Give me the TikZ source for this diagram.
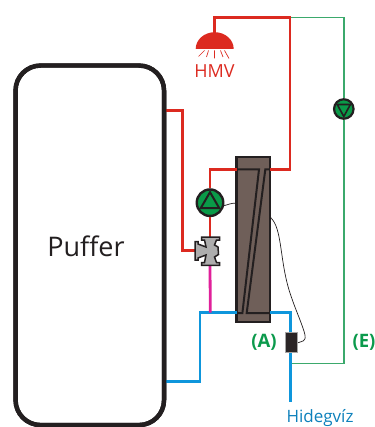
\documentclass[tikz,border=0pt]{standalone}
\usepackage{fontspec}
\setmainfont{Open Sans}
\definecolor{hot}{HTML}{DC2A20}
\definecolor{cold}{HTML}{0E96DC}
\definecolor{mag}{HTML}{E0209A}
\definecolor{grn}{HTML}{3BA96C}
\definecolor{pumpg}{HTML}{0A9A48}
\definecolor{txtg}{HTML}{0B9A4C}
\definecolor{ink}{HTML}{231F20}
\definecolor{hxf}{HTML}{6F5F59}
\tikzset{
 pipehot/.style={draw=hot,line width=2.8pt,line join=miter},
 pipecold/.style={draw=cold,line width=2.8pt},
 pipemag/.style={draw=mag,line width=2.8pt},
 pipegrn/.style={draw=grn,line width=1.4pt},
 wire/.style={draw=ink,line width=0.7pt},
 tankbox/.style={draw=ink,line width=4.4pt,outer sep=0pt,rounded corners=25pt,minimum width=148.5pt,minimum height=359.5pt,fill=white,inner sep=0pt},
 hxbox/.style={draw=ink,line width=2.4pt,outer sep=0pt,fill=hxf,minimum width=33.5pt,minimum height=164.5pt,inner sep=0pt},
 pumpbig/.style={circle,draw=ink,line width=2.4pt,fill=pumpg,minimum size=26.5pt,inner sep=0pt},
 pumpsmall/.style={circle,draw=ink,line width=2.2pt,fill=pumpg,minimum size=19.5pt,inner sep=0pt},
 sens/.style={draw=black!35,line width=1pt,fill=ink!90!hxf,minimum width=12.5pt,minimum height=20pt,inner sep=0pt},
 lab/.style={inner sep=0pt,font=\fontsize{18}{20}\selectfont},
 labg/.style={inner sep=0pt,text=txtg,font=\fontsize{18.5}{20}\selectfont\bfseries},
}
\begin{document}
\begin{tikzpicture}[x=1pt,y=-1pt]
\useasboundingbox (0,0) rectangle (374,427);
\clip (0,0) rectangle (374,427);
% nodes
\node[tankbox] (puffer) at (89.8,245.3) {};
\node[lab,text=ink,font=\fontsize{27}{30}\selectfont] (pufferlabel) at (86,246.5) {Puffer};
\node[hxbox] (hx) at (253.3,239.5) {};
\node[pumpbig] (pump1) at (210,202.7) {};
\node[pumpsmall] (pump2) at (343.8,109) {};
\coordinate (valvetop) at (210,238);
\coordinate (valvebot) at (210,265);
\coordinate (valveleft) at (195,250.7);
\coordinate (hotout) at (164,110.3);
\coordinate (hotbend) at (182.7,110.3);
\coordinate (hotbend2) at (182.7,250.7);
\coordinate (coldout) at (164,381.3);
\coordinate (coldb1) at (200,381.3);
\coordinate (coldb2) at (200,312.7);
\coordinate (coldj) at (210.3,312.7);
\coordinate (coldb3) at (290.3,312.7);
\coordinate (coldend) at (290.3,401.7);
\coordinate (hxinL) at (237,169.4);
\coordinate (hxinR) at (270,169.4);
\coordinate (pbend) at (210,169.4);
\coordinate (topR) at (290,17.5);
\coordinate (hotR) at (290,169.4);
\coordinate (topL) at (214.5,17.5);
\coordinate (dome) at (214.5,33);
\coordinate (grnR) at (343.8,17.5);
\coordinate (grnB) at (343.8,363.3);
\coordinate (grnJ) at (290.3,363.3);
% pipes
\draw[pipegrn] (topR) -- (grnR) -- (pump2);
\draw[pipegrn] (pump2) -- (grnB) -- (grnJ);
\draw[pipehot] (hotout) -- (hotbend) -- (hotbend2) -- (valveleft);
\draw[pipehot] (valvetop) -- (pump1);
\draw[pipehot] (pump1) -- (pbend) -- (hxinL);
\draw[pipehot] (hxinR) -- (hotR) -- (topR) -- (topL) -- (dome);
\draw[pipecold] (coldout) -- (coldb1) -- (coldb2) -- (hx.west |- coldb2);
\draw[pipecold] (hx.east |- coldb3) -- (coldb3) -- (coldend);
\draw[pipemag] (valvebot) -- (coldj);
\node[sens] (sensor) at (291.3,342.7) {};
% redraw puffer outline over pipe ends
\draw[ink,line width=4.4pt,rounded corners=25pt] (puffer.south west) rectangle (puffer.north east);
% heat exchanger inside
\draw[ink,line width=2pt] (237,169.4) -- (259,169.4) -- (242.4,313) -- (237,313);
\draw[ink,line width=2pt] (269,169.4) -- (265.3,169.4) -- (246.7,313) -- (269,313);
% pump symbols
\draw[ink,line width=2pt,line join=miter] (pump1.center) ++(0,-10.5) -- ++(9.3,16) -- ++(-18.6,0) -- cycle;
\draw[ink,line width=1.6pt,line join=miter] (pump2.center) ++(0,7.5) -- ++(6.6,-12) -- ++(-13.2,0) -- cycle;
% valve
\filldraw[fill=black!32,draw=ink,line width=1.5pt,line join=miter]
 (201.5,237.2) -- (219.5,237.2) -- (219.5,240) -- (216.5,240) -- (214.5,245) -- (218,247) -- (218.5,254.5) -- (214.5,257)
 -- (216.5,262.5) -- (219.5,262.5) -- (219.5,265.3) -- (201.5,265.3) -- (201.5,262.5) -- (204.5,262.5) -- (206,255)
 -- (198,258) -- (198,260) -- (195,260) -- (195,241.7) -- (198,241.7) -- (198,244) -- (206,247)
 -- (204.5,240) -- (201.5,240) -- cycle;
% shower head
\fill[hot] (195.7,49) arc[start angle=180,end angle=360,x radius=19,y radius=16.8] -- cycle;
\draw[hot,line width=0.7pt]
 (214.5,50.5) -- (214.5,58.5)
 (208.5,50.5) -- (206.5,57)
 (220.5,50.5) -- (223,57)
 (204.5,50.5) -- (198.5,56.5)
 (224.5,50.5) -- (229,58.5);
\node[lab,text=hot] (hmv) at (214.5,71) {HMV};
% sensor wires
\draw[wire] (pump1.east) ++(-0.5,3) .. controls (227,205) and (231,203) .. (hx.west |- 0,203);
\draw[wire] (hx.east |- 0,217) .. controls (283,228) and (279,262) .. (291,296) .. controls (296,311) and (303,326) .. (305,335) .. controls (306,342) and (302,341) .. (sensor.east);
% labels
\node[labg] (a) at (264,342.7) {(A)};
\node[labg] (e) at (364,342.7) {(E)};
\node[anchor=base,inner sep=0pt,text=cold!85!black,font=\fontsize{17}{18}\selectfont] (hideg) at (320,422.5) {Hidegvíz};
\end{tikzpicture}
\end{document}
